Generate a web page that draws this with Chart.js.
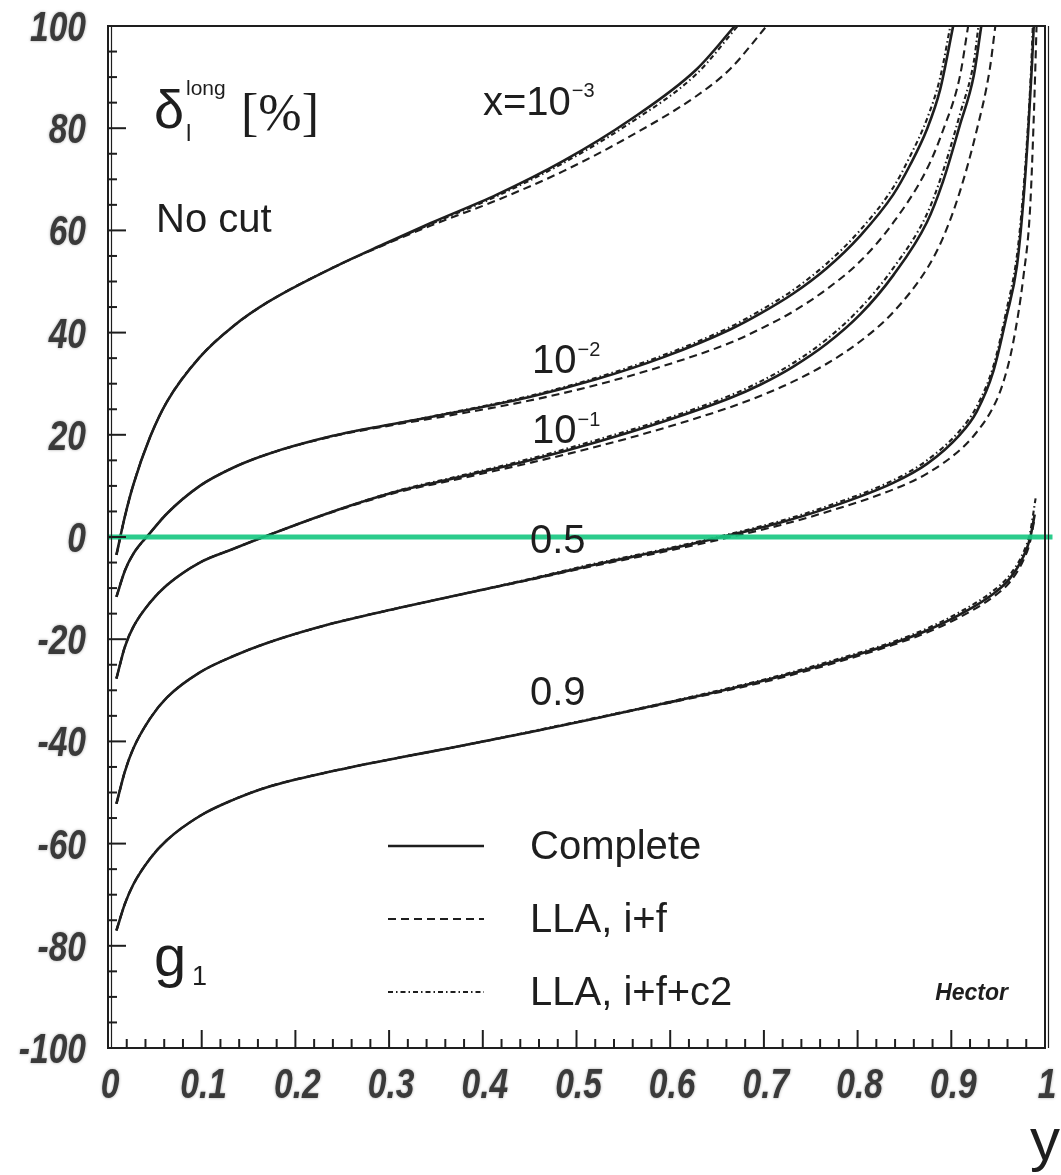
<!DOCTYPE html>
<html>
<head>
<meta charset="utf-8">
<script src="https://cdn.jsdelivr.net/npm/chart.js@4.4.0/dist/chart.umd.min.js"></script>
<style>
  html, body { margin: 0; padding: 0; background: #fff; }
  #wrap { width: 1061px; height: 1175px; }
</style>
</head>
<body>
<div id="wrap"><canvas id="chart" width="1061" height="1175"></canvas></div>
<script>
// ---- data: delta_l^long [%] versus y, one family per x value ----

// x = 1e-3
const yA = [0.009, 0.018, 0.027, 0.045, 0.063, 0.098, 0.134, 0.17, 0.24, 0.294, 0.344, 0.415, 0.486, 0.557, 0.628, 0.669];
const completeA = [-3.5, 4, 10.2, 19.6, 26.5, 35.2, 41.3, 45.9, 52.7, 57.3, 61.4, 67, 73.6, 81.6, 91.5, 100];
const yA_lla = [0.009, 0.018, 0.027, 0.045, 0.063, 0.098, 0.134, 0.17, 0.24, 0.294, 0.344, 0.415, 0.486, 0.557, 0.628, 0.664, 0.703];
const llaA = [-3.5, 4, 10.2, 19.6, 26.5, 35.2, 41.3, 45.9, 52.7, 57.1, 60.9, 65.9, 71.6, 78.4, 86.3, 91.6, 100];
const yA_c2 = [0.009, 0.018, 0.027, 0.045, 0.063, 0.098, 0.134, 0.17, 0.24, 0.294, 0.344, 0.415, 0.486, 0.557, 0.628, 0.672];
const c2A = [-3.5, 4, 10.2, 19.6, 26.5, 35.2, 41.3, 45.9, 52.7, 57.2, 61.2, 66.7, 73.2, 81, 90.6, 100];

// x = 1e-2
const yB = [0.009, 0.018, 0.027, 0.045, 0.063, 0.098, 0.134, 0.17, 0.24, 0.31, 0.365, 0.45, 0.52, 0.593, 0.664, 0.696, 0.731, 0.767, 0.803, 0.838, 0.856, 0.874, 0.888, 0.902];
const completeB = [-11.7, -6.6, -3.3, 0.8, 4.6, 10, 13.6, 16.2, 19.8, 22.3, 24.2, 27.4, 30.8, 35.2, 40.6, 43.7, 47.6, 52.6, 59, 67, 72.8, 79.8, 87.5, 100];
const yB_lla = [0.009, 0.018, 0.027, 0.045, 0.063, 0.098, 0.134, 0.17, 0.24, 0.31, 0.365, 0.45, 0.52, 0.593, 0.664, 0.696, 0.731, 0.767, 0.803, 0.838, 0.874, 0.891, 0.909, 0.918];
const llaB = [-11.7, -6.6, -3.3, 0.8, 4.6, 10, 13.6, 16.2, 19.7, 22.1, 23.8, 26.7, 29.7, 33.5, 38, 40.7, 44.1, 48.5, 54, 61.5, 72, 79.5, 90, 100];
const yB_c2 = [0.009, 0.018, 0.027, 0.045, 0.063, 0.098, 0.134, 0.17, 0.24, 0.31, 0.365, 0.45, 0.52, 0.593, 0.664, 0.696, 0.731, 0.767, 0.803, 0.838, 0.856, 0.874, 0.888, 0.899];
const c2B = [-11.7, -6.6, -3.3, 0.8, 4.6, 10, 13.6, 16.2, 19.8, 22.3, 24.3, 27.6, 31.1, 35.6, 41.1, 44.3, 48.3, 53.5, 60.1, 68.4, 74.5, 81.8, 89.8, 100];

// x = 1e-1
const yC = [0.009, 0.018, 0.027, 0.045, 0.063, 0.098, 0.134, 0.166, 0.24, 0.31, 0.365, 0.45, 0.52, 0.593, 0.664, 0.696, 0.731, 0.767, 0.803, 0.838, 0.874, 0.891, 0.909, 0.924, 0.932];
const completeC = [-27.7, -21.5, -17.6, -12.8, -9.4, -5, -2.3, 0, 5, 9, 11.3, 15, 18.5, 22.6, 27.2, 29.8, 33.3, 37.8, 43.6, 51.2, 61.6, 69.5, 80.5, 90.3, 100];
const yC_lla = [0.009, 0.018, 0.027, 0.045, 0.063, 0.098, 0.134, 0.166, 0.24, 0.31, 0.365, 0.45, 0.52, 0.593, 0.664, 0.696, 0.731, 0.767, 0.803, 0.838, 0.874, 0.891, 0.909, 0.927, 0.941, 0.947];
const llaC = [-27.7, -21.5, -17.6, -12.8, -9.4, -5, -2.3, 0, 4.9, 8.8, 11, 14.5, 17.6, 21.3, 25.4, 27.6, 30.4, 33.9, 38.3, 44, 52.5, 58.5, 67.5, 79.5, 91.5, 100];
const yC_c2 = [0.009, 0.018, 0.027, 0.045, 0.063, 0.098, 0.134, 0.166, 0.24, 0.31, 0.365, 0.45, 0.52, 0.593, 0.664, 0.696, 0.731, 0.767, 0.803, 0.838, 0.874, 0.891, 0.909, 0.924, 0.929];
const c2C = [-27.7, -21.5, -17.6, -12.8, -9.4, -5, -2.3, 0, 5, 9.1, 11.5, 15.3, 18.9, 23, 27.7, 30.4, 34, 38.7, 44.8, 52.6, 63.2, 71.5, 82.6, 93, 100];

// x = 0.5
const yD = [0.009, 0.018, 0.027, 0.045, 0.063, 0.098, 0.134, 0.169, 0.24, 0.31, 0.365, 0.45, 0.52, 0.593, 0.655, 0.717, 0.767, 0.838, 0.874, 0.909, 0.927, 0.945, 0.959, 0.97, 0.977, 0.982, 0.986, 0.988];
const completeD = [-52.2, -45.9, -41.4, -35.5, -31.4, -26.5, -23.3, -20.8, -16.9, -13.9, -11.7, -8.3, -5.4, -2.6, 0, 2.8, 5.6, 10.6, 14.3, 20, 24.5, 32.5, 43.2, 53, 66, 79.2, 92.2, 100];
const yD_lla = [0.009, 0.018, 0.027, 0.045, 0.063, 0.098, 0.134, 0.169, 0.24, 0.31, 0.365, 0.45, 0.52, 0.593, 0.655, 0.717, 0.767, 0.838, 0.874, 0.909, 0.927, 0.945, 0.955, 0.966, 0.977, 0.984, 0.988, 0.991];
const llaD = [-52.2, -45.9, -41.4, -35.5, -31.4, -26.5, -23.3, -20.8, -16.9, -13.9, -11.7, -8.4, -5.6, -2.9, -0.4, 2.3, 4.9, 9.3, 12.4, 17, 20.5, 25.5, 30, 38, 51, 64, 82, 100];
const yD_c2 = [0.009, 0.018, 0.027, 0.045, 0.063, 0.098, 0.134, 0.169, 0.24, 0.31, 0.365, 0.45, 0.52, 0.593, 0.655, 0.717, 0.767, 0.838, 0.874, 0.909, 0.927, 0.945, 0.959, 0.97, 0.977, 0.982, 0.985, 0.987];
const c2D = [-52.2, -45.9, -41.4, -35.5, -31.4, -26.5, -23.3, -20.8, -16.9, -13.9, -11.7, -8.2, -5.2, -2.4, 0.2, 3.1, 6, 11.1, 15, 20.8, 25.5, 33.5, 44.5, 55, 68, 81, 91, 100];

// x = 0.9
const yE = [0.009, 0.018, 0.027, 0.045, 0.063, 0.098, 0.134, 0.169, 0.24, 0.31, 0.365, 0.45, 0.52, 0.593, 0.664, 0.717, 0.767, 0.838, 0.874, 0.909, 0.945, 0.963, 0.977, 0.984, 0.989];
const completeE = [-77, -71.8, -68, -62.9, -59.3, -54.6, -51.4, -49, -45.8, -43.2, -41.3, -38.2, -35.5, -32.6, -29.7, -27.3, -24.8, -20.8, -18.3, -15.2, -11.1, -8, -3.8, -0.3, 4.4];
const yE_lla = [0.009, 0.018, 0.027, 0.045, 0.063, 0.098, 0.134, 0.169, 0.24, 0.31, 0.365, 0.45, 0.52, 0.593, 0.664, 0.717, 0.767, 0.838, 0.874, 0.909, 0.945, 0.963, 0.977, 0.984, 0.989];
const llaE = [-77, -71.8, -68, -62.9, -59.3, -54.6, -51.4, -49, -45.8, -43.2, -41.3, -38.2, -35.5, -32.7, -29.9, -27.6, -25.1, -21.1, -18.7, -15.7, -11.7, -8.7, -4.5, -1, 3.8];
const yE_c2 = [0.009, 0.018, 0.027, 0.045, 0.063, 0.098, 0.134, 0.169, 0.24, 0.31, 0.365, 0.45, 0.52, 0.593, 0.664, 0.717, 0.767, 0.838, 0.874, 0.909, 0.945, 0.963, 0.977, 0.984, 0.99];
const c2E = [-77, -71.8, -68, -62.9, -59.3, -54.6, -51.4, -49, -45.8, -43.2, -41.3, -38.1, -35.4, -32.5, -29.5, -27.1, -24.5, -20.5, -17.9, -14.7, -10.5, -7.3, -3, 0.8, 7.6];

// reference line at zero (green marker)
const zeroLineY = [0, 1.008];
const zeroLineV = [0, 0];

// axes
const xTickStep = 0.1;
const yTickStep = 20;

// legend entries
const legendLabels = ['Complete', 'LLA, i+f', 'LLA, i+f+c2'];

// ---- styles ----
const ink = '#1e1e1e';
const dashLLA = [8, 5];
const dashC2 = [5, 3, 1.5, 3];
const textFont = "'Liberation Sans', Arial, sans-serif";

function pts(ys, vs) {
    return ys.map((y, i) => ({ x: y, y: vs[i] }));
}

function curve(ys, vs, kind) {
    const ds = {
        data: pts(ys, vs),
        borderColor: ink,
        borderWidth: kind === 'complete' ? 2.6 : 2.1,
        pointRadius: 0,
        fill: false,
        cubicInterpolationMode: 'monotone'
    };
    if (kind === 'lla') ds.borderDash = dashLLA;
    if (kind === 'c2') ds.borderDash = dashC2;
    return ds;
}

const datasets = [
    {
        data: pts(zeroLineY, zeroLineV),
        borderColor: 'rgba(25, 200, 130, 0.92)',
        borderWidth: 5,
        pointRadius: 0,
        clip: false
    },
    curve(yA, completeA, 'complete'), curve(yA_lla, llaA, 'lla'), curve(yA_c2, c2A, 'c2'),
    curve(yB, completeB, 'complete'), curve(yB_lla, llaB, 'lla'), curve(yB_c2, c2B, 'c2'),
    curve(yC, completeC, 'complete'), curve(yC_lla, llaC, 'lla'), curve(yC_c2, c2C, 'c2'),
    curve(yD, completeD, 'complete'), curve(yD_lla, llaD, 'lla'), curve(yD_c2, c2D, 'c2'),
    curve(yE, completeE, 'complete'), curve(yE_lla, llaE, 'lla'), curve(yE_c2, c2E, 'c2')
];

// frame, inward ticks, tick labels, in-plot labels and legend
const decorations = {
    id: 'decorations',
    afterDraw(chart) {
        const ctx = chart.ctx;
        const { left, right, top, bottom } = chart.chartArea;
        const xs = chart.scales.x;
        const ys = chart.scales.y;

        function seg(x1, y1, x2, y2) {
            ctx.beginPath();
            ctx.moveTo(x1, y1);
            ctx.lineTo(x2, y2);
            ctx.stroke();
        }
        function text(str, x, y, font, align) {
            ctx.font = font;
            ctx.textAlign = align || 'left';
            ctx.textBaseline = 'alphabetic';
            ctx.fillText(str, x, y);
            return x + ctx.measureText(str).width;
        }
        // condensed bold italic numbers like the original axis labels
        function tickLabel(str, x, y, align) {
            ctx.save();
            ctx.translate(x, y);
            ctx.scale(0.8, 1);
            ctx.font = 'italic bold 42px ' + textFont;
            ctx.textAlign = align;
            ctx.textBaseline = 'alphabetic';
            ctx.shadowColor = 'rgba(0,0,0,0.35)';
            ctx.shadowBlur = 3;
            ctx.fillStyle = '#3a3a3a';
            ctx.fillText(str, 0, 0);
            ctx.restore();
        }

        ctx.save();
        ctx.strokeStyle = ink;
        ctx.fillStyle = ink;
        ctx.setLineDash([]);

        // frame (left and right edges are doubled in the original)
        ctx.lineWidth = 2;
        ctx.strokeRect(left, top, right - left, bottom - top);
        ctx.lineWidth = 1.2;
        seg(left + 3.5, top, left + 3.5, bottom);
        seg(right + 3.5, top, right + 3.5, bottom);

        // y ticks: major every 20, minor every 5
        ctx.lineWidth = 2;
        for (let v = ys.min; v <= ys.max; v += 5) {
            const py = ys.getPixelForValue(v);
            const len = (v % yTickStep === 0) ? 18 : 9;
            seg(left, py, left + len, py);
        }
        // x ticks: major every 0.1, minor every 0.02
        for (let i = 0; i <= 50; i++) {
            const px = xs.getPixelForValue(i / 50);
            const len = (i % 5 === 0) ? 18 : 9;
            seg(px, bottom, px, bottom - len);
        }

        // tick labels from the scales' own ticks
        ys.ticks.forEach(t => {
            tickLabel(String(t.value), left - 22, ys.getPixelForValue(t.value) + 15, 'right');
        });
        xs.ticks.forEach(t => {
            const v = Math.round(t.value * 10) / 10;
            tickLabel(String(v), xs.getPixelForValue(t.value) + 2, bottom + 50, 'center');
        });

        // title-like labels
        text('\u03B4', 154, 128, '54px ' + textFont);
        text('l', 186, 141, '24px ' + textFont);
        text('long', 186, 95, '21px ' + textFont);
        text('[%]', 241, 130, '52px "Liberation Serif", serif');
        text('No cut', 156, 232, '40px ' + textFont);

        // curve labels with superscript exponents
        let end = text('x=10', 483, 115, '40px ' + textFont);
        text('\u22123', end + 1, 97, '20px ' + textFont);
        end = text('10', 532, 373, '40px ' + textFont);
        text('\u22122', end + 1, 356, '20px ' + textFont);
        end = text('10', 532, 443, '40px ' + textFont);
        text('\u22121', end + 1, 426, '20px ' + textFont);
        text('0.5', 530, 553, '40px ' + textFont);
        text('0.9', 530, 705, '40px ' + textFont);

        // g1
        text('g', 154, 976, '58px ' + textFont);
        text('1', 192, 985, '27px ' + textFont);

        // legend
        const legendY = [846, 919, 992];
        const dashes = [[], dashLLA, dashC2];
        legendLabels.forEach((lab, i) => {
            ctx.setLineDash(dashes[i]);
            ctx.lineWidth = i === 0 ? 2.6 : 2.1;
            seg(388, legendY[i], 484, legendY[i]);
            ctx.setLineDash([]);
            text(lab, 530, legendY[i] + 13, '40px ' + textFont);
        });

        text('Hector', 1008, 1000, 'italic bold 23px ' + textFont, 'right');

        // axis title
        text('y', 1030, 1160, '60px ' + textFont);

        ctx.restore();
    }
};

new Chart(document.getElementById('chart'), {
    type: 'line',
    data: { datasets: datasets },
    options: {
        responsive: false,
        maintainAspectRatio: false,
        animation: false,
        layout: { padding: { top: 26, right: 16, left: 0, bottom: 0 } },
        plugins: {
            legend: { display: false },
            tooltip: { enabled: false }
        },
        scales: {
            x: {
                type: 'linear',
                min: 0,
                max: 1,
                grid: { display: false, drawTicks: false },
                border: { display: false },
                ticks: { stepSize: xTickStep, display: false },
                afterFit: s => { s.height = 127; }
            },
            y: {
                type: 'linear',
                min: -100,
                max: 100,
                grid: { display: false, drawTicks: false },
                border: { display: false },
                ticks: { stepSize: yTickStep, display: false },
                afterFit: s => { s.width = 108; }
            }
        }
    },
    plugins: [decorations]
});
</script>
</body>
</html>
